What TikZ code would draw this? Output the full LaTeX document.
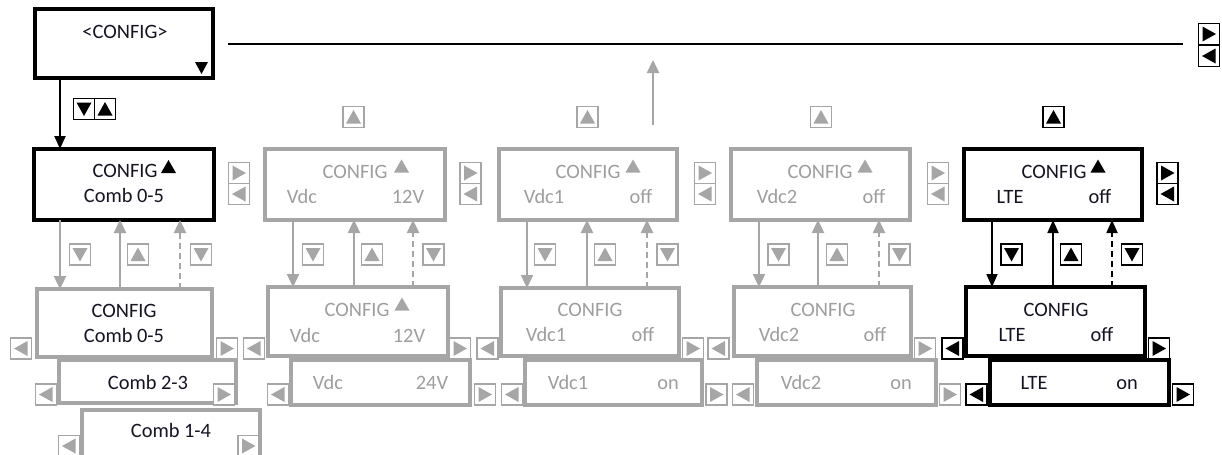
\documentclass[tikz,border=0pt]{standalone}
\usepackage{fontspec}
\setmainfont{Carlito}
\usetikzlibrary{arrows.meta,fit}
\definecolor{lg}{RGB}{166,166,166}
\definecolor{tg}{RGB}{158,158,158}
\definecolor{tk}{RGB}{20,20,35}
\tikzset{
  boxK/.style={draw=black, line width=2pt, inner sep=0pt, outer sep=0pt},
  boxG/.style={draw=lg, line width=2pt, inner sep=0pt, outer sep=0pt},
  btn/.style={draw=#1, line width=0.7pt, fill=white, minimum width=10.5pt, minimum height=10.5pt, inner sep=0pt, outer sep=0pt},
  bU/.style={btn=#1, path picture={\fill[#1] ([shift={(-7.5,6.5)}]path picture bounding box.center) -- ++(15,0) -- ++(-7.5,-13.5) -- cycle;}},
  bD/.style={btn=#1, path picture={\fill[#1] ([shift={(-7.5,-6.5)}]path picture bounding box.center) -- ++(15,0) -- ++(-7.5,13.5) -- cycle;}},
  bL/.style={btn=#1, path picture={\fill[#1] ([shift={(6.5,-7.5)}]path picture bounding box.center) -- ++(0,15) -- ++(-13.5,-7.5) -- cycle;}},
  bR/.style={btn=#1, path picture={\fill[#1] ([shift={(-6.5,-7.5)}]path picture bounding box.center) -- ++(0,15) -- ++(13.5,-7.5) -- cycle;}},
  txt/.style={inner sep=0pt, anchor=base, yshift=-3.3pt, font=\fontsize{10.2}{12}\selectfont},
  tK/.style={txt, text=tk},
  tG/.style={txt, text=tg},
  aG/.style={draw=lg, line width=1.2pt, -{Triangle[width=6pt,length=6.5pt]}},
  aK/.style={draw=black, line width=0.9pt, -{Triangle[width=5.5pt,length=6.5pt]}},
  dsh/.style={dash pattern=on 3pt off 2pt},
  pics/itri/.style={code={\fill[#1] (-7.5,6.5) -- (7.5,6.5) -- (0,-6.5) -- cycle;}},
  pics/dtri/.style={code={\fill[#1] (-6.5,-6) -- (6.5,-6) -- (0,6) -- cycle;}}
}
\begin{document}
\begin{tikzpicture}[x=0.5pt, y=-0.5pt]
\useasboundingbox (0,0) rectangle (1222,455);
\clip (0,0) rectangle (1222,455);
\fill[white] (0,0) rectangle (1222,455);

% ---------- top CONFIG box ----------
\node[boxK, fit={(35,9)(213,78)}] (cfg) {};
\node[tK] (t0) at (125,32) {<CONFIG>};
\pic at (201.5,68) {dtri=black};
\coordinate (hs) at (228,44);
\coordinate (he) at (1183,44);
\draw[line width=0.6pt] (hs) -- (he);
\node[bR=black] (r1) at (1209,34) {};
\node[bL=black] (r2) at (1209,56) {};

% ---------- boxes ----------
\node[boxK, fit={(34,149)(214,220)}] (c1t) {};
\node[boxG, fit={(37,289)(212,357)}] (c1l) {};
\node[boxG, fit={(59,360)(236,403)}] (c1a) {};
\node[boxG, fit={(82,410)(260,470)}] (c1b) {};

\node[boxG, fit={(265,149)(445,220)}] (c2t) {};
\node[boxG, fit={(268,287)(448,356)}] (c2l) {};
\node[boxG, fit={(291,360)(470,405)}] (c2a) {};

\node[boxG, fit={(499,149)(677,220)}] (c3t) {};
\node[boxG, fit={(501,288)(679,356)}] (c3l) {};
\node[boxG, fit={(525,360)(702,405)}] (c3a) {};

\node[boxG, fit={(731,149)(910,220)}] (c4t) {};
\node[boxG, fit={(734,287)(911,356)}] (c4l) {};
\node[boxG, fit={(757,360)(936,405)}] (c4a) {};

\node[boxK, fit={(964,149)(1142,220)}] (c5t) {};
\node[boxK, fit={(966,287)(1145,356)}] (c5l) {};
\node[boxK, fit={(990,360)(1169,405)}] (c5a) {};

% ---------- texts ----------
\node[tK] (t1a) at (125,171) {CONFIG};
\pic at (168.5,166.5) {itri=black};
\node[tK] (t1b) at (124,196) {Comb 0-5};
\node[tK] (t1c) at (124,311) {CONFIG};
\node[tK] (t1d) at (124,336) {Comb 0-5};
\node[tK] (t1e) at (148,383) {Comb 2-3};
\node[tK] (t1f) at (171,431) {Comb 1-4};

\node[tG] (t2a) at (355,172) {CONFIG};
\pic at (401.5,166) {itri=lg};
\node[tG] (t2b) at (302,197) {Vdc};
\node[tG] (t2c) at (408,197) {12V};
\node[tG] (t2d) at (357,310) {CONFIG};
\pic at (402,304) {itri=lg};
\node[tG] (t2e) at (305,336) {Vdc};
\node[tG] (t2f) at (409,336) {12V};
\node[tG] (t2g) at (328,383) {Vdc};
\node[tG] (t2h) at (432,383) {24V};

\node[tG] (t3a) at (588,172) {CONFIG};
\pic at (633,166) {itri=lg};
\node[tG] (t3b) at (544,197) {Vdc1};
\node[tG] (t3c) at (641,197) {off};
\node[tG] (t3d) at (590,310) {CONFIG};
\node[tG] (t3e) at (546,335) {Vdc1};
\node[tG] (t3f) at (643,335) {off};
\node[tG] (t3g) at (568,383) {Vdc1};
\node[tG] (t3h) at (668,383) {on};

\node[tG] (t4a) at (820,172) {CONFIG};
\pic at (865,166) {itri=lg};
\node[tG] (t4b) at (777,197) {Vdc2};
\node[tG] (t4c) at (874,197) {off};
\node[tG] (t4d) at (823,310) {CONFIG};
\node[tG] (t4e) at (779,335) {Vdc2};
\node[tG] (t4f) at (875,335) {off};
\node[tG] (t4g) at (801,383) {Vdc2};
\node[tG] (t4h) at (901,383) {on};

\node[tK] (t5a) at (1054,172) {CONFIG};
\pic at (1098,166) {itri=black};
\node[tK] (t5b) at (1010,197) {LTE};
\node[tK] (t5c) at (1100,197) {off};
\node[tK] (t5d) at (1056,310) {CONFIG};
\node[tK] (t5e) at (1012,335) {LTE};
\node[tK] (t5f) at (1102,335) {off};
\node[tK] (t5g) at (1034,383) {LTE};
\node[tK] (t5h) at (1127,383) {on};

% ---------- connectors ----------
\draw[aK] (cfg.south -| 60,0) -- (c1t.north -| 60,0);

\draw[aG] (c1t.south -| 60,0) -- (c1l.north -| 60,0);
\draw[aG] (c1l.north -| 120,0) -- (c1t.south -| 120,0);
\draw[aG, dsh] (c1l.north -| 180,0) -- (c1t.south -| 180,0);

\draw[aG] (c2t.south -| 293,0) -- (c2l.north -| 293,0);
\draw[aG] (c2l.north -| 354,0) -- (c2t.south -| 354,0);
\draw[aG, dsh] (c2l.north -| 413,0) -- (c2t.south -| 413,0);

\draw[aG] (c3t.south -| 527,0) -- (c3l.north -| 527,0);
\draw[aG] (c3l.north -| 587,0) -- (c3t.south -| 587,0);
\draw[aG, dsh] (c3l.north -| 647,0) -- (c3t.south -| 647,0);
\coordinate (u0) at (653,125);
\coordinate (u1) at (653,60);
\draw[aG] (u0) -- (u1);

\draw[aG] (c4t.south -| 759,0) -- (c4l.north -| 759,0);
\draw[aG] (c4l.north -| 818,0) -- (c4t.south -| 818,0);
\draw[aG, dsh] (c4l.north -| 879,0) -- (c4t.south -| 879,0);

\draw[aK] (c5t.south -| 992,0) -- (c5l.north -| 992,0);
\draw[aK] (c5l.north -| 1053,0) -- (c5t.south -| 1053,0);
\draw[aK, dsh] (c5l.north -| 1112,0) -- (c5t.south -| 1112,0);

% ---------- buttons ----------
\node[bD=black] (k1) at (84,109) {};
\node[bU=black] (k2) at (105,109) {};

\node[bU=lg] (u2) at (353.5,117) {};
\node[bU=lg] (u3) at (587.5,117) {};
\node[bU=lg] (u4) at (821,117) {};
\node[bU=black] (u5) at (1053.5,117) {};

\node[bR=lg] (s1r) at (239,173) {};
\node[bL=lg] (s1l) at (239,194) {};
\node[bR=lg] (s2r) at (470.5,173) {};
\node[bL=lg] (s2l) at (470.5,194) {};
\node[bR=lg] (s3r) at (705,173) {};
\node[bL=lg] (s3l) at (705,194) {};
\node[bR=lg] (s4r) at (938,173) {};
\node[bL=lg] (s4l) at (938,194) {};
\node[bR=black] (s5r) at (1167.5,173) {};
\node[bL=black] (s5l) at (1167.5,194) {};

\node[bD=lg] (m1a) at (80,254.5) {};
\node[bU=lg] (m1b) at (138,254.5) {};
\node[bD=lg] (m1c) at (201,254.5) {};
\node[bD=lg] (m2a) at (313,254.5) {};
\node[bU=lg] (m2b) at (372,254.5) {};
\node[bD=lg] (m2c) at (433.5,254.5) {};
\node[bD=lg] (m3a) at (545,254.5) {};
\node[bU=lg] (m3b) at (605,254.5) {};
\node[bD=lg] (m3c) at (667.5,254.5) {};
\node[bD=lg] (m4a) at (778.5,254.5) {};
\node[bU=lg] (m4b) at (837,254.5) {};
\node[bD=lg] (m4c) at (899.5,254.5) {};
\node[bD=black] (m5a) at (1011.5,254.5) {};
\node[bU=black] (m5b) at (1071,254.5) {};
\node[bD=black] (m5c) at (1132,254.5) {};

\node[bL=lg] (l1a) at (21,348.5) {};
\node[bR=lg] (l1b) at (227,348.5) {};
\node[bL=lg] (l2a) at (254,348.5) {};
\node[bR=lg] (l2b) at (460,348.5) {};
\node[bL=lg] (l3a) at (487.5,348.5) {};
\node[bR=lg] (l3b) at (693,348.5) {};
\node[bL=lg] (l4a) at (718.5,348.5) {};
\node[bR=lg] (l4b) at (925,348.5) {};
\node[bL=black] (l5a) at (952.5,348.5) {};
\node[bR=black] (l5b) at (1159,348.5) {};

\node[bL=lg] (o1a) at (46,394.5) {};
\node[bR=lg] (o1b) at (224,394.5) {};
\node[bL=lg] (o2a) at (278,394.5) {};
\node[bR=lg] (o2b) at (485,394.5) {};
\node[bL=lg] (o3a) at (512,394.5) {};
\node[bR=lg] (o3b) at (716.5,394.5) {};
\node[bL=lg] (o4a) at (743,394.5) {};
\node[bR=lg] (o4b) at (950,394.5) {};
\node[bL=black] (o5a) at (976.5,394.5) {};
\node[bR=black] (o5b) at (1183,394.5) {};

\node[bL=lg] (p1a) at (69,446) {};
\node[bR=lg] (p1b) at (248.5,446) {};
\end{tikzpicture}
\end{document}
